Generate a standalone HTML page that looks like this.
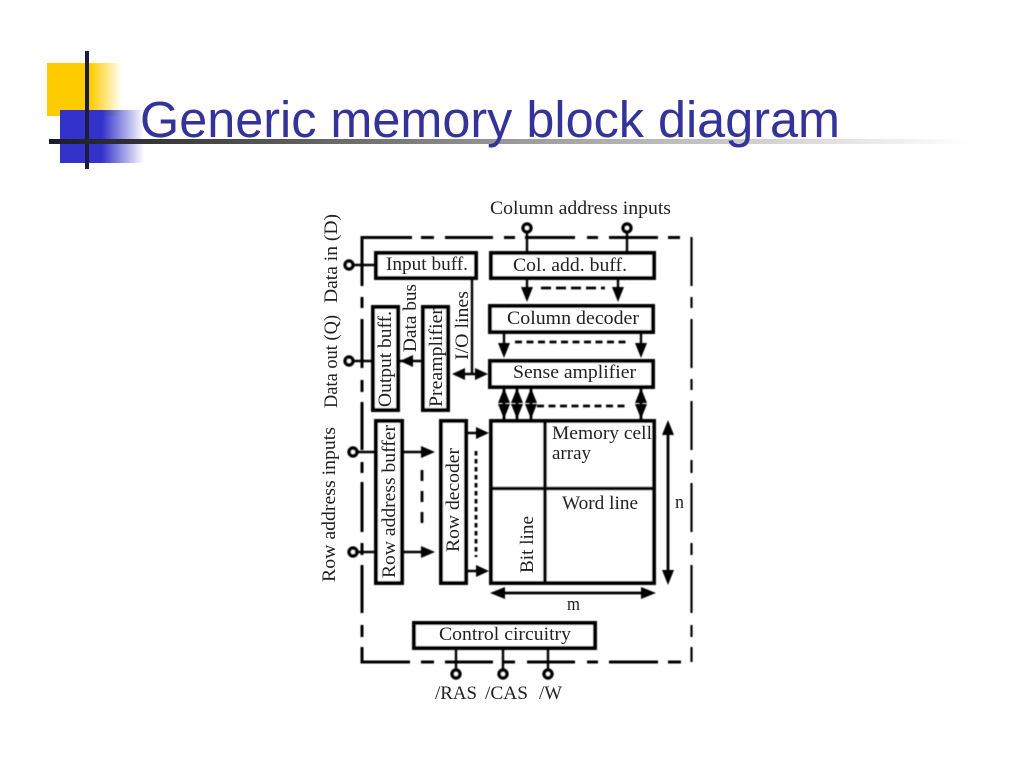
<!DOCTYPE html>
<html><head><meta charset="utf-8"><title>Generic memory block diagram</title>
<style>html,body{margin:0;padding:0;background:#fff}svg{display:block}</style></head>
<body>
<svg xmlns="http://www.w3.org/2000/svg" width="1024" height="768" viewBox="0 0 1024 768">
<defs>
<linearGradient id="y" x1="0" x2="1" y1="0" y2="0"><stop offset="0" stop-color="#ffcc00"/><stop offset=".58" stop-color="#ffcc00"/><stop offset="1" stop-color="#ffcc00" stop-opacity="0"/></linearGradient>
<linearGradient id="b" x1="0" x2="1" y1="0" y2="0"><stop offset="0" stop-color="#3333cc"/><stop offset=".5" stop-color="#3333cc"/><stop offset="1" stop-color="#3333cc" stop-opacity="0"/></linearGradient>
<linearGradient id="l" x1="0" x2="1" y1="0" y2="0"><stop offset="0" stop-color="#1c1c2c"/><stop offset=".1" stop-color="#333"/><stop offset=".5" stop-color="#999"/><stop offset="1" stop-color="#fff"/></linearGradient>
<filter id="s" x="0" y="0" width="1" height="1" filterUnits="objectBoundingBox"><feGaussianBlur stdDeviation="0.4"/></filter>
</defs>
<rect width="1024" height="768" fill="#fff"/>
<rect x="47" y="63" width="75" height="53" fill="url(#y)"/>
<rect x="60" y="110" width="84" height="53" fill="url(#b)"/>
<rect x="85" y="51" width="4" height="118" fill="#1c1c3c"/>
<rect x="49" y="139" width="920" height="5" fill="url(#l)"/>
<text x="140" y="137" font-family="'Liberation Sans',sans-serif" font-size="51" fill="#333399" textLength="700" lengthAdjust="spacingAndGlyphs">Generic memory block diagram</text>

<g filter="url(#s)">
<rect x="300" y="190" width="400" height="520" fill="#fff" fill-opacity="0"/>
<g fill="none" stroke="#000" stroke-width="3">
<path d="M362 286V237.500H412M421 237.500H434M445 237.500H493M504 237.500H515M525 237.500H575M587 237.500H598M609 237.500H658M668 237.500H680"/>
<path d="M362 297V308M362 319V368M362 380V392M362 402V450M362 462V473M362 482V532M362 543V555M362 565V613M362 625V637M362 647V662H410M421 662H434M445 662H493M504 662H515M527 662H575M587 662H598M609 662H658M668 662H681"/>
<path stroke-width="2.200" d="M691.500 237V286M691.500 297V308M691.500 319V368M691.500 379V390M691.500 401V450M691.500 460V473M691.500 483V532M691.500 543V555M691.500 565V613M691.500 625V637M691.500 647V662"/>

<g fill="#fff" stroke-width="4">
<rect x="376" y="253" width="100" height="25"/>
<rect x="491" y="253" width="163" height="25"/>
<rect x="490" y="306" width="163" height="26"/>
<rect x="490" y="361" width="163" height="26"/>
<rect x="373" y="307" width="25" height="103"/>
<rect x="423" y="307" width="25" height="103"/>
<rect x="376" y="421" width="26" height="162"/>
<rect x="441" y="421" width="25" height="162"/>
<rect x="491" y="421" width="163" height="162"/>
<rect x="414" y="623" width="181" height="25"/>
</g>

<g stroke-width="2.400">
<path d="M353.500 265H375M353.500 361H371M357.500 452H375M357.500 552H375"/>
<path d="M527 232V251M627 232V251M456 649V669.500M503 649V669.500M548 649V669.500"/>
<path d="M527 279V290M618 279V290M504 333V346M641 333V346"/>
<path d="M472 279V374M460 374H480M400 361H421M404 452H423M404 552H423M468 433H478M468 571H478"/>
</g>

<g fill="#fff" stroke-width="3.600">
<circle cx="349" cy="265" r="3.900"/><circle cx="349" cy="361" r="3.900"/>
<circle cx="353" cy="452" r="3.900"/><circle cx="353" cy="552" r="3.900"/>
<circle cx="527" cy="228" r="3.900"/><circle cx="627" cy="228" r="3.900"/>
<circle cx="456" cy="674" r="3.900"/><circle cx="503" cy="674" r="3.900"/><circle cx="548" cy="674" r="3.900"/>
</g>

<g stroke-width="2.800">
<path d="M504 388V419M517 388V419M531 388V419M641 388V419"/>
<path d="M668 430V575M500 593H646"/>
</g>
<path stroke-width="3.500" d="M493 488.500H652M545 422V582"/>
<g stroke-width="2.800">
<path stroke-dasharray="10 5" d="M541 288H605"/>
<path stroke-dasharray="7 4.500" d="M515 342H627M537 406H627"/>
<path stroke-dasharray="11 10" d="M422 470V533"/>
<path stroke-dasharray="4.500 3.500" d="M476 451V557"/>
</g>
</g>

<g fill="#000">
<path d="M521 287H533L527 302ZM612 287H624L618 302ZM498 343H510L504 358ZM635 343H647L641 358Z"/>
<path d="M452 374L465 368V380ZM488 374L475 368V380ZM400 361L413 355V367Z"/>
<path d="M435 452L421 446V458ZM435 552L421 546V558ZM489 433L476 427V439ZM489 571L476 565V577Z"/>
<path d="M504 388L510 403H498ZM504 419L510 404H498ZM517 388L523 403H511ZM517 419L523 404H511ZM531 388L537 403H525ZM531 419L537 404H525ZM641 388L647 403H635ZM641 419L647 404H635Z"/>
<path d="M668 420L674 435H662ZM668 585L674 570H662ZM490 593L505 587V599ZM656 593L641 587V599Z"/>
</g>
</g>

<g font-family="'Liberation Serif',serif" font-size="18.500" fill="#222">
<text x="490" y="214" textLength="181" lengthAdjust="spacingAndGlyphs">Column address inputs</text>
<text x="386" y="270" textLength="82" lengthAdjust="spacingAndGlyphs">Input buff.</text>
<text x="513" y="271" textLength="114" lengthAdjust="spacingAndGlyphs">Col. add. buff.</text>
<text x="507" y="324" textLength="132" lengthAdjust="spacingAndGlyphs">Column decoder</text>
<text x="513" y="378" textLength="123" lengthAdjust="spacingAndGlyphs">Sense amplifier</text>
<text x="552" y="439" textLength="100" lengthAdjust="spacingAndGlyphs">Memory cell</text>
<text x="552" y="459" textLength="39" lengthAdjust="spacingAndGlyphs">array</text>
<text x="562" y="509" textLength="76" lengthAdjust="spacingAndGlyphs">Word line</text>
<text x="675" y="508" textLength="9" lengthAdjust="spacingAndGlyphs">n</text>
<text x="567" y="610" textLength="13" lengthAdjust="spacingAndGlyphs">m</text>
<text x="439" y="640" textLength="132" lengthAdjust="spacingAndGlyphs">Control circuitry</text>
<text x="435" y="699" textLength="42" lengthAdjust="spacingAndGlyphs">/RAS</text>
<text x="485" y="699" textLength="43" lengthAdjust="spacingAndGlyphs">/CAS</text>
<text x="539" y="699" textLength="23" lengthAdjust="spacingAndGlyphs">/W</text>
<text transform="translate(337 303) rotate(-90)" textLength="89" lengthAdjust="spacingAndGlyphs">Data in (D)</text>
<text transform="translate(337 408) rotate(-90)" textLength="93" lengthAdjust="spacingAndGlyphs">Data out (Q)</text>
<text transform="translate(335 582) rotate(-90)" textLength="155" lengthAdjust="spacingAndGlyphs">Row address inputs</text>
<text transform="translate(416 352) rotate(-90)" textLength="68" lengthAdjust="spacingAndGlyphs">Data bus</text>
<text transform="translate(468 360) rotate(-90)" textLength="69" lengthAdjust="spacingAndGlyphs">I/O lines</text>
<text transform="translate(391 407) rotate(-90)" textLength="96" lengthAdjust="spacingAndGlyphs">Output buff.</text>
<text transform="translate(442 407) rotate(-90)" textLength="99" lengthAdjust="spacingAndGlyphs">Preamplifier</text>
<text transform="translate(395 578) rotate(-90)" textLength="153" lengthAdjust="spacingAndGlyphs">Row address buffer</text>
<text transform="translate(459 552) rotate(-90)" textLength="104" lengthAdjust="spacingAndGlyphs">Row decoder</text>
<text transform="translate(533 573) rotate(-90)" textLength="57" lengthAdjust="spacingAndGlyphs">Bit line</text>
</g>
</svg>
</body></html>
